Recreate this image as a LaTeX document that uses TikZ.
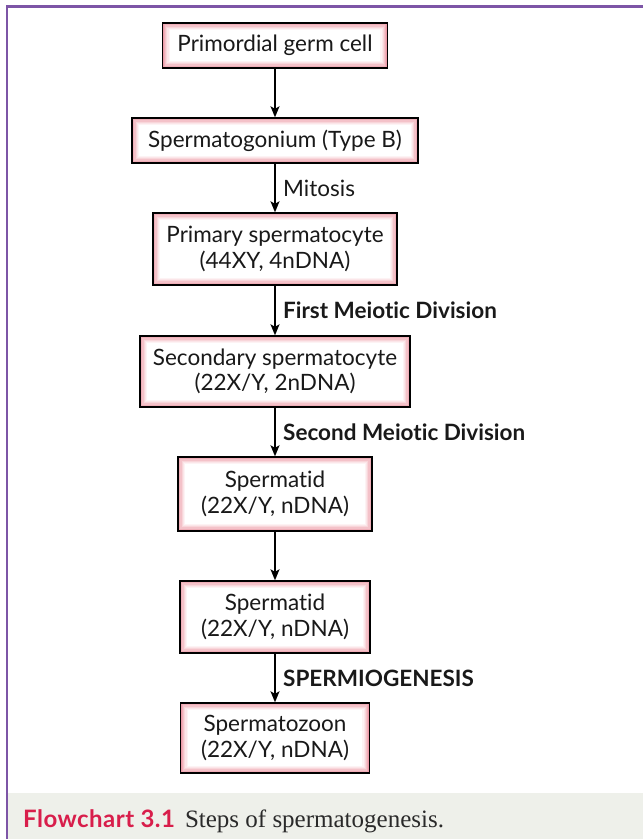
\documentclass[tikz,border=0pt]{standalone}
\usepackage{fontspec}
\setsansfont{Lato}[Ligatures=NoCommon]
\newfontfamily\capserif{Liberation Serif}
\newfontfamily\capsans{Lato}[Ligatures=NoCommon,LetterSpace=2]
\usetikzlibrary{arrows.meta,calc}
\definecolor{framecol}{HTML}{7D55A6}
\definecolor{capbg}{HTML}{EEF0EA}
\definecolor{capred}{HTML}{D81E4B}
\definecolor{captext}{HTML}{2A2A2A}
\definecolor{glowA}{HTML}{EC9AA7}
\definecolor{glowB}{HTML}{F0AEB8}
\definecolor{glowC}{HTML}{F4C2C9}
\definecolor{glowD}{HTML}{F8D6DA}
\definecolor{glowE}{HTML}{FBE6E9}
\definecolor{glowF}{HTML}{FDF3F4}
\tikzset{
  flowbox/.style={draw=black, line width=1.4pt, fill=glowA, inner sep=0pt,
    align=center, text=black!90,
    font=\sffamily\fontsize{22.5}{25.5}\selectfont,
    path picture={
      \foreach \d/\c in {1.2/glowB,2.4/glowC,3.6/glowD,4.8/glowE,6/glowF,7.2/white}{
        \fill[\c] ([shift={(\d pt,\d pt)}]path picture bounding box.south west)
          rectangle ([shift={(-\d pt,-\d pt)}]path picture bounding box.north east);
      }
    }},
  arr/.style={draw=black, line width=1.4pt, -{Stealth[length=11pt,width=9pt,inset=2.5pt]}},
  steplab/.style={anchor=west, inner sep=0pt, text=black!90, font=\sffamily\fontsize{22.5}{26}\selectfont},
  boldlab/.style={steplab, font=\sffamily\bfseries\fontsize{22.5}{26}\selectfont}
}
\begin{document}
\begin{tikzpicture}[x=1pt,y=-1pt]
\useasboundingbox (0,0) rectangle (643,839);
\fill[capbg] (8,793) rectangle (643,839);
\draw[framecol, line width=2.5pt] (6.75,839) -- (6.75,6.25) -- (643,6.25);

\node[flowbox, minimum width=225pt, minimum height=45pt] (b1) at (275,45.5) {Primordial germ cell};
\node[flowbox, minimum width=286pt, minimum height=45pt] (b2) at (275,140.5) {Spermatogonium (Type B)};
\node[flowbox, minimum width=244pt, minimum height=72pt] (b3) at (275,249) {Primary spermatocyte\\(44XY, 4nDNA)};
\node[flowbox, minimum width=270pt, minimum height=71pt] (b4) at (275,371.5) {Secondary spermatocyte\\(22X/Y, 2nDNA)};
\node[flowbox, minimum width=194pt, minimum height=74pt] (b5) at (275,494) {Spermatid\\(22X/Y, nDNA)};
\node[flowbox, minimum width=190pt, minimum height=72pt] (b6) at (275,617) {Spermatid\\(22X/Y, nDNA)};
\node[flowbox, minimum width=189pt, minimum height=70pt] (b7) at (275,738) {Spermatozoon\\(22X/Y, nDNA)};

\draw[arr] (b1.south) -- (b2.north);
\draw[arr] (b2.south) -- (b3.north);
\draw[arr] (b3.south) -- (b4.north);
\draw[arr] (b4.south) -- (b5.north);
\draw[arr] (b5.south) -- (b6.north);
\draw[arr] (b6.south) -- (b7.north);

\node[steplab] (l1) at ($(b2.south)!0.5!(b3.north)+(8,0)$) {Mitosis};
\node[boldlab] (l2) at ($(b3.south)!0.5!(b4.north)+(8,0)$) {First Meiotic Division};
\node[boldlab] (l3) at ($(b4.south)!0.5!(b5.north)+(8,0)$) {Second Meiotic Division};
\node[boldlab] (l4) at ($(b6.south)!0.5!(b7.north)+(8,0)$) {SPERMIOGENESIS};

\node[anchor=base west, inner sep=0pt] (cap) at (23,827)
  {\capsans\bfseries\fontsize{24}{28}\selectfont\color{capred}Flowchart 3.1\hspace{10pt}\capserif\mdseries\fontsize{25}{28}\selectfont\color{captext}Steps of spermatogenesis.};
\end{tikzpicture}
\end{document}
